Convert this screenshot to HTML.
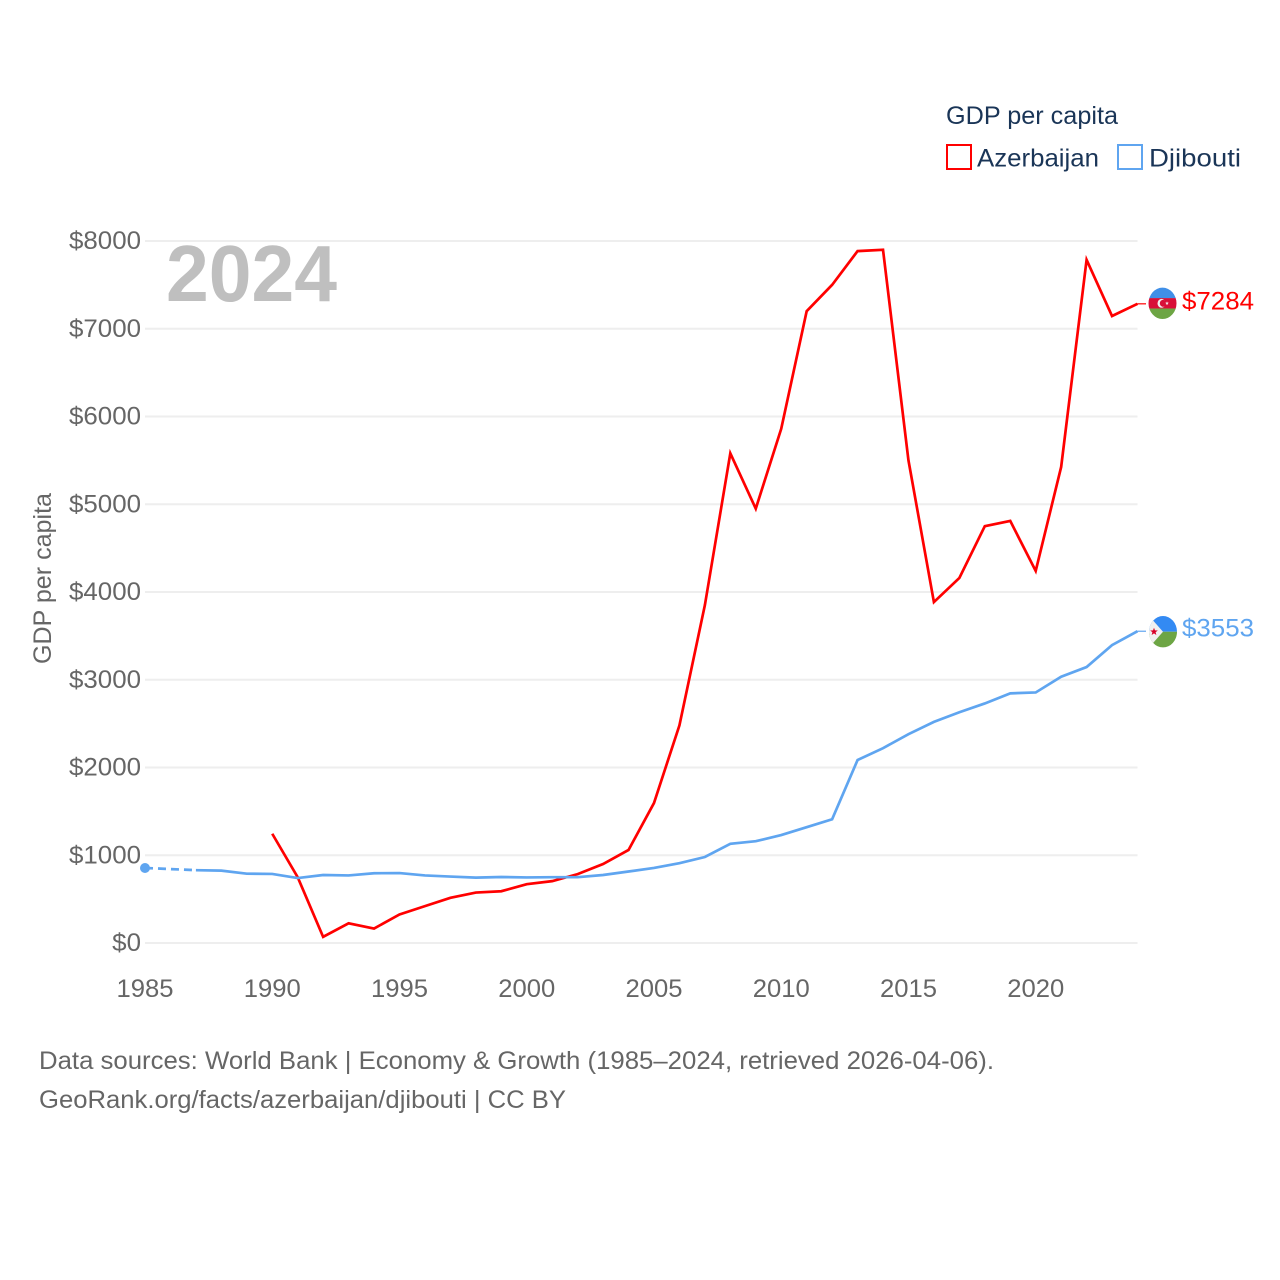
<!DOCTYPE html>
<html lang="en">
<head>
<meta charset="utf-8">
<title>GDP per capita: Azerbaijan and Djibouti</title>
<style>
html,body{margin:0;padding:0;background:#fff;}
svg{display:block;font-family:"Liberation Sans",sans-serif;}
</style>
</head>
<body>
<svg id="chart" xmlns="http://www.w3.org/2000/svg" width="1280" height="1280" viewBox="0 0 1280 1280">
  <defs>
    <clipPath id="clip-az"><ellipse id="clip-az-circle" cx="1162.5" cy="303" rx="14" ry="15.7"></ellipse></clipPath>
    <clipPath id="clip-dj"><ellipse id="clip-dj-circle" cx="1163" cy="631" rx="14" ry="15.7"></ellipse></clipPath>
  </defs>
  <rect width="1280" height="1280" fill="#ffffff"></rect>
  <g id="grid"></g>
  <g id="y-ticks"></g>
  <g id="x-ticks"></g>
  <text x="166" y="301" font-size="80" font-weight="700" fill="#bfbfbf" textLength="171" lengthAdjust="spacingAndGlyphs">2024</text>
  <text transform="translate(51,664) rotate(-90)" font-size="25" fill="#666666" textLength="171" lengthAdjust="spacingAndGlyphs">GDP per capita</text>
  <g id="series"></g>
  <g id="flags"></g>
  <g>
    <text x="946" y="124" font-size="25" fill="#1a3557" textLength="172" lengthAdjust="spacingAndGlyphs">GDP per capita</text>
    <rect x="947" y="145" width="24" height="24" fill="none" stroke="#ff0000" stroke-width="2"></rect>
    <text x="977" y="166.5" font-size="25" fill="#1a3557" textLength="122" lengthAdjust="spacingAndGlyphs">Azerbaijan</text>
    <rect x="1118" y="145" width="24" height="24" fill="none" stroke="#5fa5f0" stroke-width="2"></rect>
    <text x="1149" y="166.5" font-size="25" fill="#1a3557" textLength="92" lengthAdjust="spacingAndGlyphs">Djibouti</text>
  </g>
  <text x="39" y="1069" font-size="25" fill="#666666" textLength="955" lengthAdjust="spacingAndGlyphs">Data sources: World Bank | Economy &amp; Growth (1985–2024, retrieved 2026-04-06).</text>
  <text x="39" y="1108" font-size="25" fill="#666666" textLength="527" lengthAdjust="spacingAndGlyphs">GeoRank.org/facts/azerbaijan/djibouti | CC BY</text>
</svg>
<script>
const years = [1985,1986,1987,1988,1989,1990,1991,1992,1993,1994,1995,1996,1997,1998,1999,2000,2001,2002,2003,2004,2005,2006,2007,2008,2009,2010,2011,2012,2013,2014,2015,2016,2017,2018,2019,2020,2021,2022,2023,2024];
const azerbaijanValues = [null,null,null,null,null,1245,750,70,225,165,325,420,515,575,590,670,705,785,900,1060,1595,2480,3850,5580,4950,5860,7200,7500,7885,7900,5500,3885,4160,4750,4810,4240,5425,7785,7145,7284];
const djiboutiValues = [855,null,830,825,790,787,740,775,770,795,797,770,757,745,752,747,750,750,775,815,855,910,980,1130,1160,1230,1320,1410,2085,2220,2380,2520,2630,2730,2845,2855,3035,3145,3395,3553];
const yTickValues = [0,1000,2000,3000,4000,5000,6000,7000,8000];
const xTickYears = [1985,1990,1995,2000,2005,2010,2015,2020];

const NS = 'http://www.w3.org/2000/svg';
const xScale = function (year) { return 145 + (year - 1985) * (1137.5 - 145) / (2024 - 1985); };
const yScale = function (value) { return 943 - value * (943 - 241) / 8000; };
const make = function (tag, attrs, parent) {
  const el = document.createElementNS(NS, tag);
  Object.keys(attrs).forEach(function (k) { el.setAttribute(k, attrs[k]); });
  parent.appendChild(el);
  return el;
};

const grid = document.getElementById('grid');
const yTicks = document.getElementById('y-ticks');
yTickValues.forEach(function (v) {
  const line = make('line', {x1: 145, x2: 1137.5, y1: yScale(v), y2: yScale(v), stroke: '#eeeeee', 'stroke-width': 2}, grid);
  
  
  const label = '$' + v;
  const t = make('text', {x: 141, y: yScale(v) + 8, 'text-anchor': 'end', 'font-size': 25, fill: '#666666', textLength: label.length * 14.4, lengthAdjust: 'spacingAndGlyphs'}, yTicks);
  
  
  t.textContent = label;
});

const xTicks = document.getElementById('x-ticks');
xTickYears.forEach(function (y) {
  const t = make('text', {x: xScale(y), y: 997, 'text-anchor': 'middle', 'font-size': 25, fill: '#666666', textLength: 57, lengthAdjust: 'spacingAndGlyphs'}, xTicks);
  
  
  t.textContent = String(y);
});

const seriesGroup = document.getElementById('series');
function drawSeries(values, color) {
  let run = [];
  let lastPoint = null;
  const flush = function () {
    if (run.length > 1) {
      const p = make('polyline', {points: run.map(function (q) { return q.join(','); }).join(' '), fill: 'none', stroke: color, 'stroke-width': 2.7, 'stroke-linejoin': 'miter', 'stroke-miterlimit': 6}, seriesGroup);
      
      
    } else if (run.length === 1) {
      const c = make('circle', {cx: run[0][0], cy: run[0][1], r: 5, fill: color}, seriesGroup);
      
      
    }
    run = [];
  };
  values.forEach(function (v, i) {
    if (v === null) { flush(); return; }
    const pt = [xScale(years[i]), yScale(v)];
    if (run.length === 0 && lastPoint) {
      const d = make('line', {x1: lastPoint[0], y1: lastPoint[1], x2: pt[0], y2: pt[1], stroke: color, 'stroke-width': 2.7, 'stroke-dasharray': '8 5'}, seriesGroup);
      
      
    }
    run.push(pt);
    lastPoint = pt;
  });
  flush();
  const lastY = yScale(values[values.length - 1]);
  const conn = make('line', {x1: 1137.5, x2: 1146, y1: lastY, y2: lastY, stroke: color, 'stroke-width': 1.2}, seriesGroup);
  
  
  const lab = '$' + values[values.length - 1];
  const t = make('text', {x: 1182, y: lastY + 5.5, 'font-size': 25, fill: color, textLength: lab.length * 14.4, lengthAdjust: 'spacingAndGlyphs'}, seriesGroup);
  
  
  t.textContent = lab;
}
drawSeries(azerbaijanValues, '#ff0000');
drawSeries(djiboutiValues, '#5fa5f0');

const flags = document.getElementById('flags');
const starPoints = function (cx, cy, r) {
  const pts = [];
  for (let i = 0; i < 10; i++) {
    const a = -Math.PI / 2 + i * Math.PI / 5;
    const rad = i % 2 ? r * 0.42 : r;
    pts.push((cx + rad * Math.cos(a)) + ',' + (cy + rad * Math.sin(a)));
  }
  return pts.join(' ');
};

const azY = yScale(azerbaijanValues[azerbaijanValues.length - 1]) - 0.5;
document.getElementById('clip-az-circle').setAttribute('cy', azY);
const azFlag = make('g', {'clip-path': 'url(#clip-az)'}, flags);


make('rect', {x: 1148, y: azY - 16, width: 29, height: 11, fill: '#3f8fe8'}, azFlag);
make('rect', {x: 1148, y: azY - 5.2, width: 29, height: 10.4, fill: '#d80f38'}, azFlag);
make('rect', {x: 1148, y: azY + 5.2, width: 29, height: 11, fill: '#6da544'}, azFlag);
make('ellipse', {cx: 1161.5, cy: azY, rx: 4, ry: 4.4, fill: '#f0f0f0'}, azFlag);
make('ellipse', {cx: 1163, cy: azY, rx: 3.2, ry: 3.5, fill: '#d80f38'}, azFlag);
make('polygon', {points: starPoints(1167, azY, 1.9), fill: '#f0f0f0'}, azFlag);

const djY = yScale(djiboutiValues[djiboutiValues.length - 1]) + 0.5;
document.getElementById('clip-dj-circle').setAttribute('cy', djY);
const djFlag = make('g', {'clip-path': 'url(#clip-dj)'}, flags);


make('rect', {x: 1148, y: djY - 17, width: 30, height: 17, fill: '#338af3'}, djFlag);
make('rect', {x: 1148, y: djY, width: 30, height: 17, fill: '#6da544'}, djFlag);
make('polygon', {points: '1148,' + (djY - 17) + ' 1163,' + djY + ' 1148,' + (djY + 17), fill: '#f0f0f0'}, djFlag);
make('polygon', {points: starPoints(1154, djY, 4), fill: '#d80027'}, djFlag);
</script>
</body>
</html>
